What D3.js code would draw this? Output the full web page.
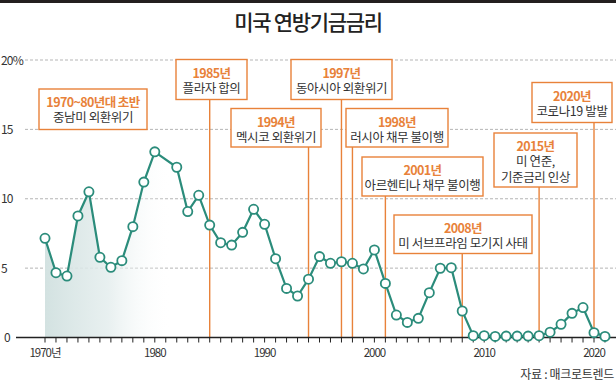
<!DOCTYPE html>
<html><head><meta charset="utf-8">
<script src="https://cdn.jsdelivr.net/npm/d3@7"></script>
<style>
body{margin:0;background:#fff;}
svg{display:block;font-family:"Noto Sans CJK KR","Noto Sans",sans-serif;}
</style></head>
<body><svg id="c" width="616" height="383"></svg>
<script>
// ---- data ----
const years = [1970,1971,1972,1973,1974,1975,1976,1977,1978,1979,1980,1982,1983,1984,1985,1986,1987,1988,1989,1990,1991,1992,1993,1994,1995,1996,1997,1998,1999,2000,2001,2002,2003,2004,2005,2006,2007,2008,2009,2010,2011,2012,2013,2014,2015,2016,2017,2018,2019,2020,2021];
const rates = [7.15,4.67,4.43,8.76,10.5,5.78,5.06,5.54,7.99,11.2,13.38,12.27,9.08,10.25,8.1,6.83,6.66,7.58,9.24,8.16,5.68,3.54,2.99,4.2,5.83,5.35,5.46,5.35,4.94,6.31,3.9,1.62,1.09,1.38,3.23,4.99,5.03,1.91,0.13,0.13,0.08,0.1,0.1,0.1,0.13,0.38,0.95,1.74,2.16,0.35,0.08];
const yTicks = [0,5,10,15,20];
const yTickLabels = ["0","5","10","15","20%"];
const xLabelYears = [1970,1980,1990,2000,2010,2020];
const xLabels = ["1970년","1980","1990","2000","2010","2020"];
const eventYears = [null,1985,1994,1997,1998,2001,2008,2015,2020];
const eventTitles = ["1970~80년대 초반","1985년","1994년","1997년","1998년","2001년","2008년","2015년","2020년"];
const eventDescs = [["중남미 외환위기"],["플라자 합의"],["멕시코 외환위기"],["동아시아 외환위기"],["러시아 채무 불이행"],["아르헨티나 채무 불이행"],["미 서브프라임 모기지 사태"],["미 연준,","기준금리 인상"],["코로나19 발발"]];
const title = "미국 연방기금금리";
const source = "자료 : 매크로트렌드";

// ---- layout (pixel boxes for annotations) ----
const boxLayout = [
  [39,89,147,129.5],[176,59.5,247,99.5],[231,108.5,321,147],[291,59.5,392,99.5],
  [346,108.5,448,147],[362,157,483,196],[394,215,532,253.5],[494,133,577,187],[532,82.5,612,122.5]
];

const svg = d3.select("#c");
const orange = "#e8823a", teal = "#2b8c7b";
const x = d3.scaleLinear().domain([1970,2020]).range([45,594]);
const y = d3.scaleLinear().domain([0,20]).range([337.5,60]);

// top bar
svg.append("rect").attr("x",0).attr("y",0).attr("width",616).attr("height",3).attr("fill","#231f1f");

// title
svg.append("text").attr("x",308).attr("y",30).attr("text-anchor","middle")
  .attr("font-size",21).attr("font-weight",500).attr("letter-spacing","-1.3px").attr("fill","#222").text(title);

// grid
svg.append("g").selectAll("line").data(yTicks.filter(d=>d>0)).join("line")
  .attr("x1",25).attr("x2",616).attr("y1",d=>y(d)).attr("y2",d=>y(d))
  .attr("stroke","#b5b5b5").attr("stroke-width",1).attr("stroke-dasharray","3,2");

// y labels
svg.append("g").selectAll("text").data(yTicks).join("text")
  .attr("x",d=>d===0?4:1).attr("y",d=>y(d)+4.5).attr("font-size",12).attr("letter-spacing","-0.8px")
  .attr("fill","#333").text((d,i)=>yTickLabels[i]);

// gradient area
const defs = svg.append("defs");
const g = defs.append("linearGradient").attr("id","ag").attr("gradientUnits","userSpaceOnUse")
  .attr("x1",x(1970)).attr("x2",x(1981.5)).attr("y1",0).attr("y2",0);
g.append("stop").attr("offset",0).attr("stop-color","#d3e2e1").attr("stop-opacity",1);
g.append("stop").attr("offset",0.5).attr("stop-color","#e2ecec").attr("stop-opacity",0.8);
g.append("stop").attr("offset",1).attr("stop-color","#ffffff").attr("stop-opacity",0);
const pts = years.map((yr,i)=>({yr,v:rates[i]}));
svg.append("path").datum(pts)
  .attr("d",d3.area().x(d=>x(d.yr)).y0(y(0)).y1(d=>y(d.v)))
  .attr("fill","url(#ag)");

// event lines
eventYears.forEach((yr,i)=>{
  if(yr==null) return;
  svg.append("line").attr("x1",x(yr)).attr("x2",x(yr)).attr("y1",boxLayout[i][3]).attr("y2",y(0))
    .attr("stroke",orange).attr("stroke-width",1.4);
});

// x axis
const axisG = svg.append("g").attr("transform",`translate(0,${y(0)})`);
axisG.append("line").attr("x1",16).attr("x2",616).attr("y1",0).attr("y2",0).attr("stroke","#222").attr("stroke-width",1.5);
axisG.selectAll("line.t").data(d3.range(1970,2022)).join("line").attr("class","t")
  .attr("x1",d=>x(d)).attr("x2",d=>x(d)).attr("y1",0).attr("y2",5).attr("stroke","#222").attr("stroke-width",1);
axisG.selectAll("text").data(xLabelYears).join("text")
  .attr("x",d=>x(d)).attr("y",19).attr("text-anchor","middle").attr("font-size",11.5).attr("letter-spacing","-1px")
  .attr("fill","#333").text((d,i)=>xLabels[i]);

// line
svg.append("path").datum(pts)
  .attr("d",d3.line().x(d=>x(d.yr)).y(d=>y(d.v)))
  .attr("fill","none").attr("stroke",teal).attr("stroke-width",2.2);
svg.append("g").selectAll("circle").data(pts).join("circle")
  .attr("cx",d=>x(d.yr)).attr("cy",d=>y(d.v)).attr("r",4.6)
  .attr("fill","#fff").attr("stroke",teal).attr("stroke-width",1.8);

// boxes
boxLayout.forEach((b,i)=>{
  const [x0,y0,x1,y1]=b, cx=(x0+x1)/2;
  svg.append("rect").attr("x",x0).attr("y",y0).attr("width",x1-x0).attr("height",y1-y0)
    .attr("fill","#fff").attr("stroke",orange).attr("stroke-width",1.4);
  svg.append("text").attr("x",cx).attr("y",y0+18).attr("text-anchor","middle")
    .attr("font-size",12.5).attr("font-weight",700).attr("letter-spacing","-0.6px").attr("fill",orange).text(eventTitles[i]);
  eventDescs[i].forEach((t,j)=>{
    svg.append("text").attr("x",cx).attr("y",y0+33+j*15.5).attr("text-anchor","middle")
      .attr("font-size",12.5).attr("letter-spacing","-0.4px").attr("fill","#333").text(t);
  });
});

// source
svg.append("text").attr("x",614).attr("y",379).attr("text-anchor","end")
  .attr("font-size",12).attr("letter-spacing","-0.3px").attr("fill","#333").text(source);
</script></body></html>
